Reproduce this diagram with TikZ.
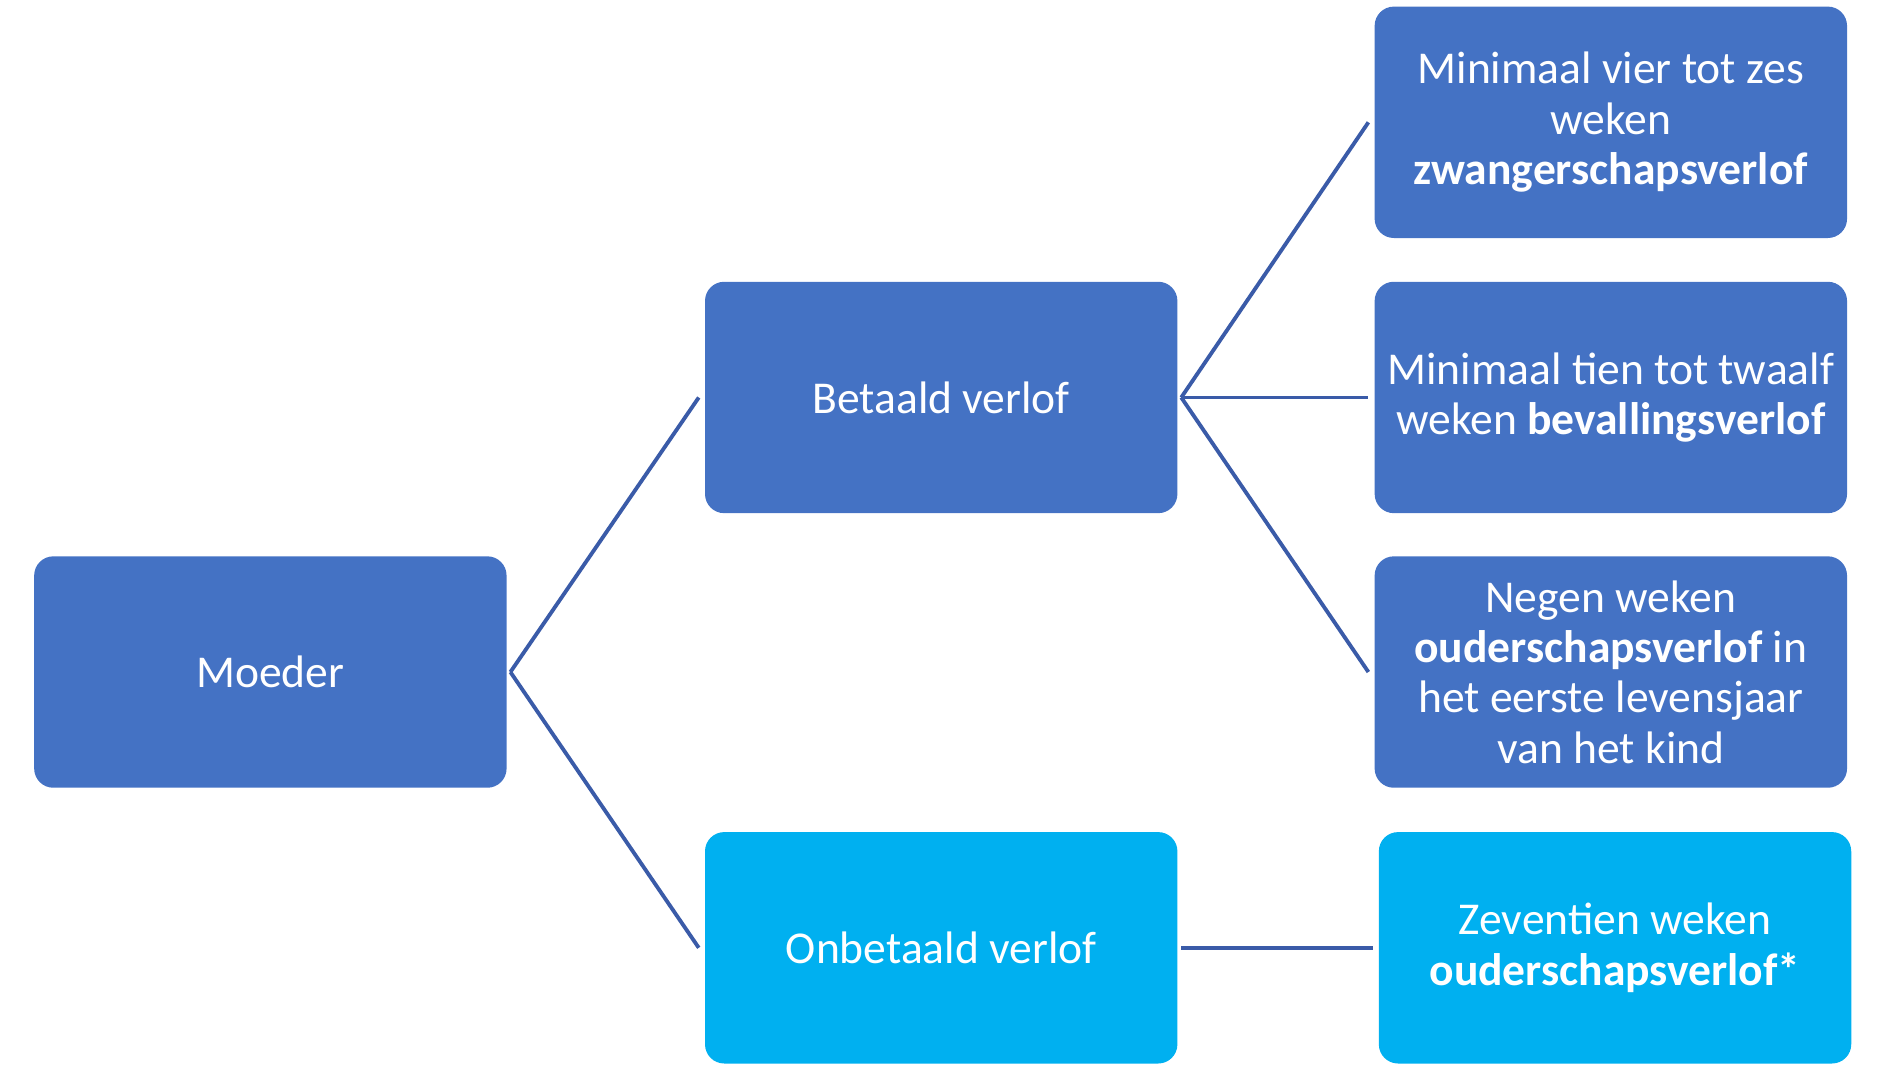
\documentclass[tikz,border=0pt]{standalone}
\usepackage{fontspec}
\setmainfont{Carlito}
\definecolor{boxblue}{HTML}{4472C4}
\definecolor{boxcyan}{HTML}{00B0F0}
\definecolor{linecol}{HTML}{3A5BA8}
\begin{document}
\begin{tikzpicture}[x=1pt,y=-1pt,
  box/.style={rectangle, rounded corners=16pt, fill=boxblue, text=white,
    minimum width=394pt, minimum height=193pt, align=center,
    font=\fontsize{38}{42}\selectfont, inner sep=0pt},
  lightbox/.style={box, fill=boxcyan},
  conn/.style={draw=linecol, line width=3.2pt}]
\useasboundingbox (0,0) rectangle (1568,894);
\node[box] (moeder) at (225.5,560.5) {Moeder};
\node[box] (betaald) at (785,331.5) {Betaald verlof};
\node[lightbox] (onbetaald) at (785,790.5) {Onbetaald verlof};
\node[box] (zwanger) at (1343.5,102) {Minimaal vier tot zes\\weken\\\textbf{zwangerschapsverlof}};
\node[box] (bevalling) at (1343.5,331.5) {Minimaal tien tot twaalf\\weken \textbf{bevallingsverlof}};
\node[box] (negen) at (1343.5,560.5) {Negen weken\\\textbf{ouderschapsverlof} in\\het eerste levensjaar\\van het kind};
\node[lightbox] (zeventien) at (1347,790.5) {Zeventien weken\\\textbf{ouderschapsverlof*}};
\draw[conn] ([xshift=3pt]moeder.east) -- ([xshift=-5pt]betaald.west);
\draw[conn] ([xshift=3pt]moeder.east) -- ([xshift=-5pt]onbetaald.west);
\draw[conn] ([xshift=3pt]betaald.east) -- ([xshift=-5pt]zwanger.west);
\draw[conn] ([xshift=3pt]betaald.east) -- ([xshift=-5pt]bevalling.west);
\draw[conn] ([xshift=3pt]betaald.east) -- ([xshift=-5pt]negen.west);
\draw[conn] ([xshift=3pt]onbetaald.east) -- ([xshift=-5pt]zeventien.west);
\end{tikzpicture}
\end{document}
